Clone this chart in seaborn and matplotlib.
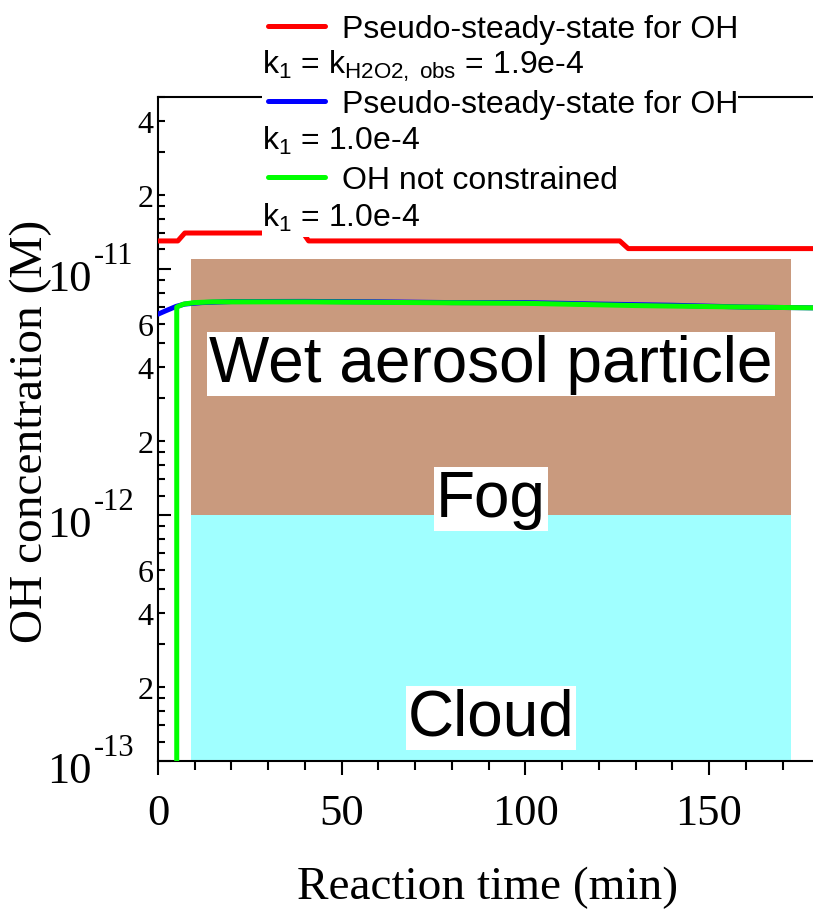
import numpy as np
import matplotlib
matplotlib.use("Agg")
import matplotlib.pyplot as plt
import seaborn as sns
from matplotlib.patches import Rectangle
from matplotlib.ticker import FixedLocator, FuncFormatter, NullFormatter, MultipleLocator
from matplotlib.transforms import blended_transform_factory, offset_copy

# ---- data ---------------------------------------------------------------
# OH concentration (M) versus reaction time (min)
red_t = [0.0, 5.4, 7.3, 39.5, 41.0, 125.7, 128.0, 178.3]
red_oh = [1.30e-11, 1.30e-11, 1.40e-11, 1.40e-11, 1.30e-11, 1.30e-11, 1.21e-11, 1.21e-11]

blue_t = [0.0, 2.0, 5.0, 7.3, 12.0, 20.0, 40.0, 60.0, 80.0, 100.0, 120.0, 140.0, 160.0, 178.3]
blue_oh = [6.55e-12, 6.75e-12, 7.05e-12, 7.20e-12, 7.30e-12, 7.37e-12, 7.38e-12,
           7.35e-12, 7.30e-12, 7.30e-12, 7.20e-12, 7.12e-12, 7.00e-12, 6.95e-12]

green_t = [5.1, 5.1, 7.0, 10.0, 15.0, 40.0, 70.0, 100.0, 130.0, 160.0, 178.3]
green_oh = [1.0e-14, 7.0e-12, 7.2e-12, 7.3e-12, 7.35e-12, 7.35e-12, 7.3e-12,
            7.25e-12, 7.1e-12, 7.0e-12, 6.95e-12]

series_labels = ["Pseudo-steady-state for OH",
                 "Pseudo-steady-state for OH",
                 "OH not constrained"]
rate_labels = [r"k$_1$ = k$_{\mathrm{H2O2,\ obs}}$ = 1.9e-4",
               r"k$_1$ = 1.0e-4",
               r"k$_1$ = 1.0e-4"]

# atmospheric water regimes (OH concentration bands)
zone_t = [9.0, 172.3]
zone_lo = [1e-12, 1e-13]
zone_hi = [1.1e-11, 1e-12]
zone_colors = ["#C99A7E", "#A0FFFF"]
zone_names = ["Wet aerosol particle", "Fog", "Cloud"]
zone_name_y = [4.1e-12, 1.16e-12, 1.5e-13]

x_ticks = [0, 50, 100, 150]
y_decades = [1e-13, 1e-12, 1e-11]
y_decade_exp = ["-13", "-12", "-11"]
y_minor_mant = [1.2, 1.4, 1.6, 1.8, 2, 3, 4, 5, 6, 7, 8, 9]
y_minor_labeled = [2, 4, 6]

# ---- style --------------------------------------------------------------
sns.set_style("white")
plt.rcParams["font.family"] = ["Liberation Serif", "DejaVu Serif"]
plt.rcParams["mathtext.fontset"] = "custom"
plt.rcParams["mathtext.rm"] = "Liberation Sans"
plt.rcParams["mathtext.it"] = "Liberation Sans:italic"
for key in ["text.color", "axes.labelcolor", "xtick.color", "ytick.color",
            "axes.edgecolor"]:
    plt.rcParams[key] = "black"
SANS = ["Liberation Sans", "DejaVu Sans"]

W, H = 813, 912
fig = plt.figure(figsize=(W / 100, H / 100), dpi=100)
ax = fig.add_axes([158 / W, 150 / H, 1 - 158 / W, 664 / H])
ax.set_yscale("log")

# regime bands
for lo, hi, c in zip(zone_lo, zone_hi, zone_colors):
    ax.fill_between(zone_t, lo, hi, color=c, lw=0, zorder=1)

# model curves
lw = 3.6
sns.lineplot(x=red_t, y=red_oh, ax=ax, color="#FF0000", lw=lw,
             estimator=None, sort=False, zorder=3)
sns.lineplot(x=blue_t, y=blue_oh, ax=ax, color="#0000FF", lw=lw,
             estimator=None, sort=False, zorder=3)
sns.lineplot(x=green_t, y=green_oh, ax=ax, color="#00FF00", lw=lw,
             estimator=None, sort=False, zorder=3)

ax.set_xlim(0, 178.3)
ax.set_ylim(1e-13, 5e-11)

# regime names
zone_x = 0.5 * (zone_t[0] + zone_t[1])
for name, y in zip(zone_names, zone_name_y):
    ax.text(zone_x, y, name, ha="center", va="center", fontsize=46,
            family=SANS, color="black", zorder=4,
            bbox=dict(boxstyle="square,pad=0.03", fc="white", ec="none"))

# spines
for side in ["left", "bottom", "top"]:
    ax.spines[side].set_visible(True)
    ax.spines[side].set_color("black")
    ax.spines[side].set_linewidth(1.5)
ax.spines["right"].set_visible(False)

# x ticks
ax.xaxis.set_major_locator(FixedLocator(x_ticks))
ax.xaxis.set_minor_locator(MultipleLocator(10))
ax.tick_params(axis="x", which="both", direction="out", bottom=True, top=False,
               width=1.5, color="black", labelcolor="black")
ax.tick_params(axis="x", which="major", length=9.9, labelsize=32, pad=13)
ax.tick_params(axis="x", which="minor", length=6.7)

# y ticks
minor_locs = [m * d for d in y_decades for m in y_minor_mant]
ax.yaxis.set_major_locator(FixedLocator(y_decades))
ax.yaxis.set_major_formatter(NullFormatter())
ax.yaxis.set_minor_locator(FixedLocator(minor_locs))


def minor_label(v, pos):
    mant = v / 10 ** np.floor(np.log10(v) + 1e-9)
    m = round(mant, 1)
    return f"{int(m)}" if m in y_minor_labeled else ""


ax.yaxis.set_minor_formatter(FuncFormatter(minor_label))
ax.tick_params(axis="y", which="both", direction="in", left=True, right=False,
               width=1.5, color="black", labelcolor="black")
ax.tick_params(axis="y", which="major", length=9.4)
ax.tick_params(axis="y", which="minor", length=4.8, labelsize=23, pad=3)

# decade labels written as 10 with a raised exponent
blend = blended_transform_factory(ax.transAxes, ax.transData)
base_tr = offset_copy(blend, fig=fig, x=-66, y=-10, units="dots")
exp_tr = offset_copy(blend, fig=fig, x=-64, y=13, units="dots")
for d, e in zip(y_decades, y_decade_exp):
    ax.text(0, d, "10", transform=base_tr, ha="right", va="center",
            fontsize=32, color="black")
    ax.text(0, d, e, transform=exp_tr, ha="left", va="center",
            fontsize=22, color="black")

# axis titles
fig.text(488 / W, 1 - 899 / H, "Reaction time (min)", ha="center",
         va="baseline", fontsize=34, color="black")
fig.text(31 / W, 1 - 431.5 / H, "OH concentration (M)", ha="center",
         va="center", rotation=90, fontsize=34, color="black")

# legend on a white panel above the plot
fig.add_artist(Rectangle((262 / W, 1 - 238 / H), 476 / W, 238 / H,
                         transform=fig.transFigure, fc="white", ec="none",
                         zorder=4))
leg = fig.legend(handles=ax.get_lines()[:3], labels=series_labels,
                 loc="upper left", bbox_to_anchor=(268 / W, 1 - 15 / H),
                 frameon=False, prop=dict(family=SANS, size=23),
                 handlelength=1.79, handletextpad=0.52, labelspacing=1.42,
                 borderpad=0, borderaxespad=0, labelcolor="black")
leg.set_zorder(5)
for lbl, yb in zip(rate_labels, [73.5, 150.0, 227.0]):
    fig.text(262 / W, 1 - yb / H, lbl, ha="left", va="baseline",
             family=SANS, size=23, color="black", zorder=6)

fig.savefig("out.png", dpi=100)
